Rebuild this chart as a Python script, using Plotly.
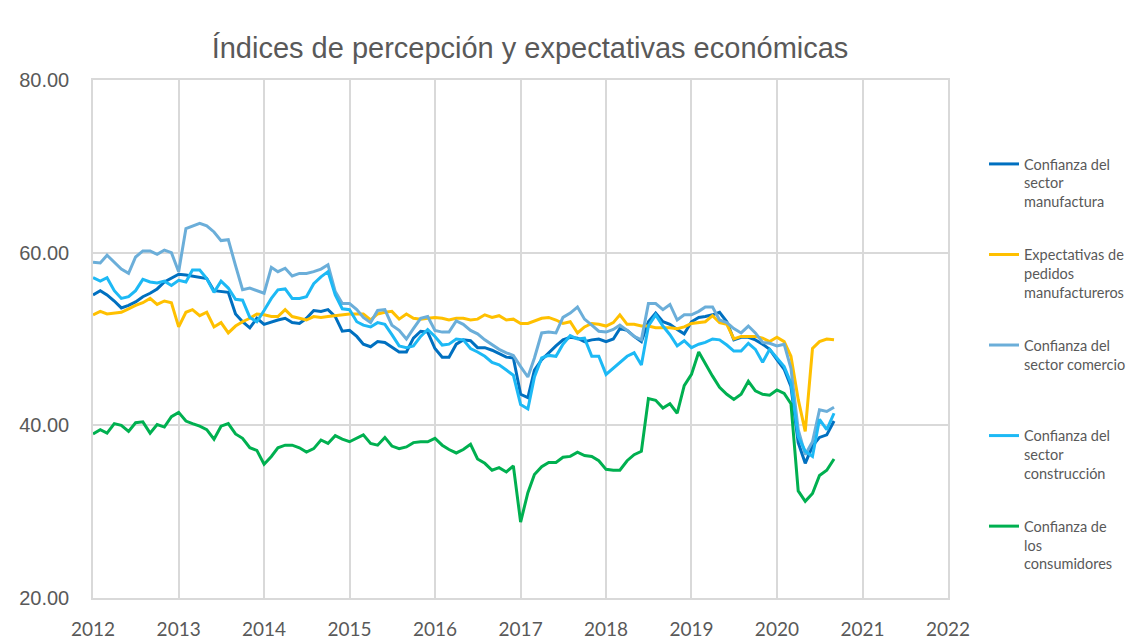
import pandas as pd
import plotly.graph_objects as go

dates = pd.date_range("2012-01-01", periods=105, freq="MS")

manufactura = [
    55.1, 55.6, 55.1, 54.4, 53.6, 53.9, 54.3, 54.9, 55.3, 55.8, 56.6, 57.0,
    57.5, 57.4, 57.3, 57.1, 57.0, 55.6, 55.5, 55.4, 52.9, 52.0, 51.3, 52.4,
    51.7, 52.0, 52.2, 52.4, 51.9, 51.8, 52.4, 53.3, 53.2, 53.4, 52.6, 50.9,
    51.0, 50.3, 49.4, 49.1, 49.7, 49.6, 49.1, 48.5, 48.5, 50.1, 50.9, 50.8,
    48.9, 47.9, 47.9, 49.4, 49.9, 49.8, 49.0, 49.0, 48.7, 48.3, 47.9, 47.8,
    43.6, 43.2, 46.4, 47.6, 48.4, 49.2, 49.9, 50.2, 50.1, 49.7, 49.9, 50.0,
    49.7, 50.0, 51.2, 51.0, 50.3, 49.7, 52.0, 53.0, 52.0, 51.7, 51.1, 50.6,
    52.0, 52.5, 52.6, 52.8, 53.1, 52.0, 49.9, 50.2, 50.2, 49.9, 49.4, 48.8,
    47.6, 46.5, 44.5, 38.0, 35.6, 37.6, 38.6, 38.9, 40.5,
]

expectativas = [
    52.8, 53.2, 52.9, 53.0, 53.1, 53.5, 53.9, 54.2, 54.7, 54.0, 54.4, 54.2,
    51.4, 53.1, 53.4, 52.7, 53.1, 51.4, 51.9, 50.7, 51.5, 52.0, 52.4, 52.9,
    52.8, 52.6, 52.6, 53.4, 52.6, 52.4, 52.2, 52.6, 52.5, 52.6, 52.7, 52.8,
    52.9, 52.9, 52.9, 52.2, 52.9, 53.1, 53.2, 52.3, 52.9, 52.4, 52.3, 52.4,
    52.5, 52.4, 52.2, 52.4, 52.4, 52.2, 52.3, 52.8, 52.5, 52.7, 52.2, 52.3,
    51.8, 51.8, 52.1, 52.4, 52.5, 52.2, 51.8, 52.0, 50.7, 51.4, 51.8, 51.7,
    51.5, 51.9, 52.8, 51.7, 51.7, 51.5, 51.5, 51.3, 51.3, 51.3, 51.2, 51.4,
    51.8, 51.9, 52.0, 52.7, 51.9, 51.7, 50.0, 50.3, 50.3, 50.3, 50.1, 49.7,
    50.2, 49.7, 48.0, 43.0, 39.3, 48.9, 49.7, 50.0, 49.9,
]

comercio = [
    58.9, 58.8, 59.7, 58.9, 58.1, 57.6, 59.5, 60.2, 60.2, 59.8, 60.3, 60.0,
    57.8, 62.8, 63.1, 63.4, 63.1, 62.4, 61.4, 61.5, 58.5, 55.7, 55.9, 55.6,
    55.3, 58.3, 57.8, 58.2, 57.3, 57.6, 57.6, 57.8, 58.1, 58.6, 55.5, 54.1,
    54.1, 53.4, 52.5, 51.9, 53.3, 53.4, 51.6, 51.0, 50.0, 51.2, 52.4, 52.6,
    51.0, 50.8, 50.8, 52.1, 51.7, 51.0, 50.6, 49.9, 49.3, 48.8, 48.4, 48.1,
    46.8, 45.6, 47.8, 50.7, 50.8, 50.7, 52.5, 53.0, 53.7, 52.3, 51.6, 50.9,
    50.8, 51.1, 51.6, 51.0, 50.3, 49.9, 54.1, 54.1, 53.4, 54.0, 52.2, 52.8,
    52.8, 53.2, 53.7, 53.7, 52.2, 51.9, 51.2, 50.7, 51.5, 50.7, 49.6, 49.5,
    49.2, 49.4, 46.6, 39.5, 36.6, 38.1, 41.8, 41.6, 42.1,
]

construccion = [
    57.1, 56.7, 57.1, 55.6, 54.7, 54.9, 55.6, 56.9, 56.6, 56.5, 56.7, 56.2,
    56.8, 56.6, 58.0, 58.0, 57.0, 55.4, 56.7, 55.9, 54.6, 54.5, 52.5, 52.0,
    53.3, 54.7, 55.7, 55.8, 54.7, 54.7, 54.9, 56.4, 57.2, 57.8, 55.1, 53.5,
    53.4, 52.0, 51.6, 51.4, 51.9, 51.7, 50.5, 49.2, 49.0, 49.2, 50.3, 51.1,
    50.3, 49.3, 49.4, 50.0, 49.9, 48.9, 48.5, 48.0, 47.3, 47.0, 46.4, 45.8,
    42.4, 41.9, 45.6, 47.8, 48.1, 48.0, 49.4, 50.4, 50.0, 50.1, 48.0, 48.0,
    45.9, 46.6, 47.3, 48.0, 48.4, 47.0, 51.5, 52.8, 51.5, 50.5, 49.2, 49.8,
    49.0, 49.4, 49.6, 50.0, 49.9, 49.3, 48.6, 48.6, 49.5, 48.8, 47.3, 48.8,
    47.8, 46.8, 44.9, 38.7, 37.0, 36.4, 40.7, 39.5, 41.4,
]

consumidores = [
    39.0, 39.5, 39.1, 40.2, 40.0, 39.3, 40.3, 40.4, 39.1, 40.1, 39.8, 41.0,
    41.5, 40.5, 40.2, 39.9, 39.5, 38.4, 39.9, 40.2, 39.0, 38.5, 37.4, 37.1,
    35.5, 36.4, 37.4, 37.7, 37.7, 37.4, 36.9, 37.3, 38.3, 37.9, 38.8, 38.4,
    38.1, 38.5, 38.9, 37.9, 37.7, 38.6, 37.6, 37.3, 37.5, 38.0, 38.1, 38.1,
    38.5, 37.7, 37.2, 36.8, 37.2, 37.8, 36.1, 35.6, 34.8, 35.1, 34.6, 35.3,
    28.8, 32.2, 34.3, 35.2, 35.7, 35.7, 36.3, 36.4, 36.9, 36.5, 36.4, 35.9,
    34.9, 34.8, 34.8, 35.9, 36.6, 37.0, 43.1, 42.9, 42.0, 42.5, 41.4, 44.6,
    45.9, 48.5, 47.1, 45.7, 44.4, 43.6, 43.0, 43.6, 45.1, 44.0, 43.6, 43.5,
    44.1, 43.7, 42.5, 32.4, 31.2, 32.1, 34.2, 34.8, 36.1,
]

names = [
    "Confianza del<br>sector<br>manufactura",
    "Expectativas de<br>pedidos<br>manufactureros",
    "Confianza del<br>sector comercio<br> ",
    "Confianza del<br>sector<br>construcción",
    "Confianza de<br>los<br>consumidores",
]
colors = ["#0070C0", "#FFC000", "#6BAED9", "#1DB9F5", "#00B050"]
series = [manufactura, expectativas, comercio, construccion, consumidores]

fig = go.Figure()
for i, (nm, col, vals) in enumerate(zip(names, colors, series)):
    fig.add_trace(go.Scatter(
        x=dates, y=vals, mode="lines", name=nm, legendgroup=f"g{i}",
        line=dict(color=col, width=3),
    ))

# The page body adds an 8px margin, so the figure is sized to fill the window.
W, H = 1129, 631
fig.update_layout(
    width=W, height=H,
    margin=dict(l=85, r=189, t=72, b=41, autoexpand=False),
    paper_bgcolor="white", plot_bgcolor="white",
    title=dict(
        text="Índices de percepción y expectativas económicas",
        x=522 / W, xref="container", xanchor="center",
        y=1 - 39.5 / H, yref="container", yanchor="middle",
        font=dict(family="Liberation Sans, Arial", size=29, color="#595959"),
    ),
    legend=dict(
        x=976 / W, xref="container", xanchor="left",
        y=1 - 140 / H, yref="container", yanchor="top",
        valign="top", tracegroupgap=31, maxheight=620,
        font=dict(family="Lato", size=14.5, color="#595959"),
        bgcolor="rgba(0,0,0,0)",
    ),
    showlegend=True,
)

fig.update_xaxes(
    type="date", range=["2012-01-01", "2022-01-01"],
    dtick="M12", tick0="2012-01-01", tickformat="%Y",
    showgrid=True, gridcolor="#d9d9d9", gridwidth=1.5,
    showline=True, linecolor="#d9d9d9", linewidth=1.5, mirror=True,
    ticks="", ticklabelstandoff=13,
    tickfont=dict(family="Lato", size=19, color="#595959"),
    zeroline=False,
)
fig.update_yaxes(
    range=[20, 80], dtick=20, tickformat=".2f",
    showgrid=True, gridcolor="#d9d9d9", gridwidth=1.5,
    showline=True, linecolor="#d9d9d9", linewidth=1.5, mirror=True,
    ticks="", ticklabelstandoff=18,
    tickfont=dict(family="Liberation Sans, Arial", size=20, color="#595959"),
    zeroline=False,
)

fig.write_html("out.html")
